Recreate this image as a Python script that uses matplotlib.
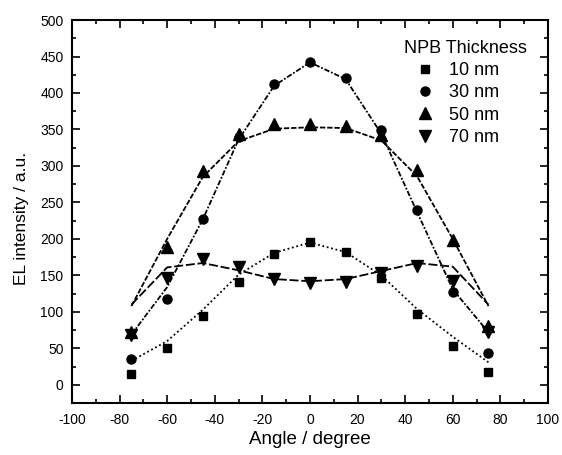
import matplotlib.pyplot as plt
from matplotlib.ticker import MultipleLocator

plt.rcParams['font.family'] = ['Liberation Sans', 'DejaVu Sans']
plt.rcParams['axes.unicode_minus'] = False

angles = [-75, -60, -45, -30, -15, 0, 15, 30, 45, 60, 75]
labels = ['10 nm', '30 nm', '50 nm', '70 nm']

# measured EL intensity
el_10 = [15, 50, 94, 141, 179, 196, 182, 146, 97, 53, 17]
el_30 = [36, 118, 228, 340, 413, 443, 421, 349, 240, 127, 44]
el_50 = [72, 189, 293, 344, 357, 357, 355, 343, 294, 198, 81]
el_70 = [68, 147, 173, 161, 145, 139, 141, 154, 163, 143, 73]

# fitted curves
fit_10 = [33, 60, 103, 151, 181, 195, 182, 150, 104, 66, 31]
fit_30 = [69, 134, 227, 336, 410, 442, 419, 344, 237, 131, 72]
fit_50 = [108, 200, 285, 334, 351, 353, 352, 335, 286, 200, 108]
fit_70 = [110, 161, 167, 157, 145, 142, 145, 156, 167, 162, 110]

fig = plt.figure(figsize=(5.62, 4.55), dpi=100)
ax = fig.add_axes([0.128, 0.114, 0.847, 0.842])

series = [
    (el_10, fit_10, 's', 5.5, (0, (1, 1.5))),
    (el_30, fit_30, 'o', 6.5, (0, (3, 1, 1, 1))),
    (el_50, fit_50, '^', 8.5, (0, (3, 1))),
    (el_70, fit_70, 'v', 8.5, (0, (5, 1.5))),
]

for (el, fit, mk, ms, ls), lab in zip(series, labels):
    ax.plot(angles, fit, color='black', lw=1.3, linestyle=ls)
    ax.plot(angles, el, linestyle='none', marker=mk, ms=ms, color='black',
            label=lab)

ax.set_xlim(-100, 100)
ax.set_ylim(-25, 500)
ax.xaxis.set_major_locator(MultipleLocator(20))
ax.xaxis.set_minor_locator(MultipleLocator(10))
ax.yaxis.set_major_locator(MultipleLocator(50))
ax.yaxis.set_minor_locator(MultipleLocator(25))
ax.tick_params(which='both', direction='in', top=True, right=True,
               labeltop=False, labelright=False, labelsize=10, width=1.2)
ax.tick_params(which='major', length=5.5)
ax.tick_params(axis='x', which='major', pad=7)
ax.tick_params(axis='y', which='major', pad=6)
ax.tick_params(which='minor', length=2.8)
for sp in ax.spines.values():
    sp.set_linewidth(1.5)

ax.set_xlabel('Angle / degree', fontsize=13.5, va='top')
ax.set_ylabel('EL intensity / a.u.', fontsize=12.5)
ax.xaxis.set_label_coords(0.5, -0.073)
ax.yaxis.set_label_coords(-0.09, 0.482)

leg = ax.legend(title='NPB Thickness', loc='upper left',
                bbox_to_anchor=(0.6975, 0.9478), frameon=False,
                fontsize=13, title_fontsize=13, alignment='left',
                handlelength=2.3, handletextpad=0.2, borderpad=0,
                borderaxespad=0, labelspacing=0.29)

plt.savefig('out.png', dpi=100)
